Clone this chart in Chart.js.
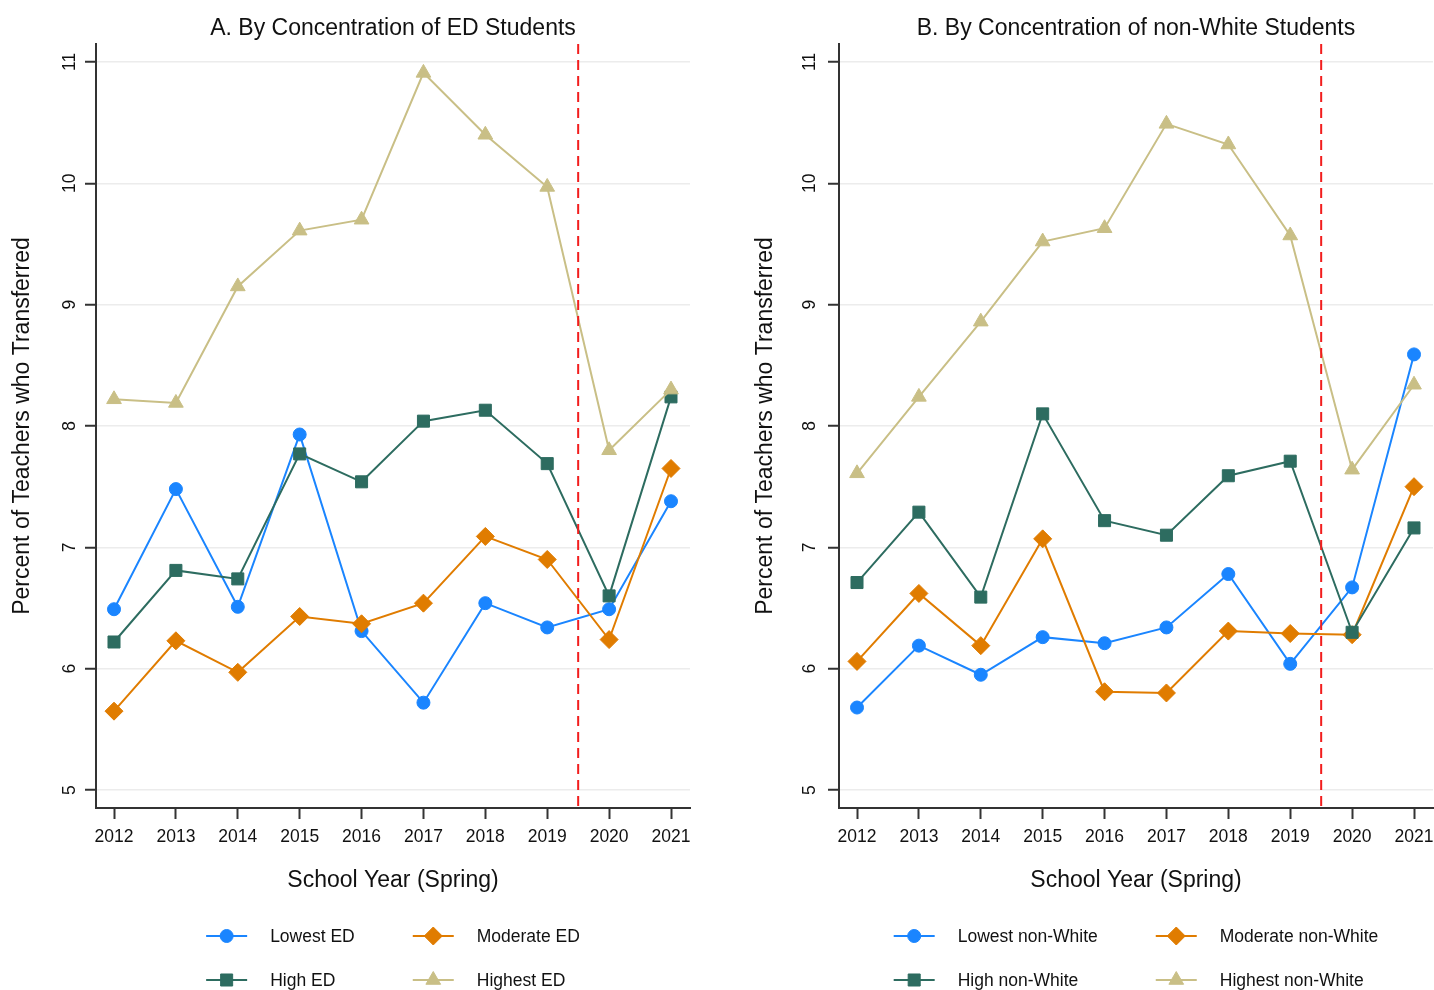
<!DOCTYPE html>
<html>
<head>
<meta charset="utf-8">
<script src="https://cdn.jsdelivr.net/npm/chart.js@4.4.1/dist/chart.umd.min.js"></script>
<style>
  html, body { margin: 0; padding: 0; background: #ffffff; }
  body { width: 1434px; height: 990px; overflow: hidden; position: relative; }
  canvas { position: absolute; top: 0; }
  #panelA { left: 0; }
  #panelB { left: 717px; }
</style>
</head>
<body>
<canvas id="panelA" width="717" height="990"></canvas>
<canvas id="panelB" width="740" height="990"></canvas>
<script>
// ---------------- DATA ----------------
const years = [2012, 2013, 2014, 2015, 2016, 2017, 2018, 2019, 2020, 2021];
const yTickValues = [5, 6, 7, 8, 9, 10, 11];
const cutoffYear = 2019.5;

const titleA = "A. By Concentration of ED Students";
const titleB = "B. By Concentration of non-White Students";
const xTitle = "School Year (Spring)";
const yTitle = "Percent of Teachers who Transferred";

const labelsA = ["Lowest ED", "Moderate ED", "High ED", "Highest ED"];
const labelsB = ["Lowest non-White", "Moderate non-White", "High non-White", "Highest non-White"];

const lowestED   = [6.49, 7.48, 6.51, 7.93, 6.31, 5.72, 6.54, 6.34, 6.49, 7.38];
const moderateED = [5.65, 6.23, 5.97, 6.43, 6.37, 6.54, 7.09, 6.90, 6.24, 7.65];
const highED     = [6.22, 6.81, 6.74, 7.77, 7.54, 8.04, 8.13, 7.69, 6.60, 8.24];
const highestED  = [8.22, 8.19, 9.15, 9.61, 9.70, 10.91, 10.40, 9.97, 7.80, 8.30];

const lowestNW   = [5.68, 6.19, 5.95, 6.26, 6.21, 6.34, 6.78, 6.04, 6.67, 8.59];
const moderateNW = [6.06, 6.62, 6.19, 7.07, 5.81, 5.80, 6.31, 6.29, 6.28, 7.50];
const highNW     = [6.71, 7.29, 6.59, 8.10, 7.22, 7.10, 7.59, 7.71, 6.30, 7.16];
const highestNW  = [7.61, 8.24, 8.86, 9.52, 9.63, 10.49, 10.32, 9.57, 7.64, 8.34];

// ---------------- STYLE ----------------
const FONT = '"Liberation Sans", Arial, sans-serif';
const TEXT = '#111111';
const AXIS = '#333333';
const GRID = '#ececec';
const seriesStyle = [
  { color: '#1a85ff', pointStyle: 'circle',   radius: 6.5 },
  { color: '#e07c00', pointStyle: 'rectRot',  radius: 9 },
  { color: '#2d6c60', pointStyle: 'rect',     radius: 8.5 },
  { color: '#c9bf86', pointStyle: 'triangle', radius: 8.5 }
];

function drawMarker(ctx, style, r, x, y) {
  ctx.beginPath();
  if (style === 'circle') {
    ctx.arc(x, y, r, 0, Math.PI * 2);
  } else if (style === 'rect') {
    const s = Math.SQRT1_2 * r;
    ctx.rect(x - s, y - s, 2 * s, 2 * s);
  } else if (style === 'rectRot') {
    ctx.moveTo(x, y - r); ctx.lineTo(x + r, y); ctx.lineTo(x, y + r); ctx.lineTo(x - r, y);
    ctx.closePath();
  } else if (style === 'triangle') {
    let rad = 0;
    ctx.moveTo(x + Math.sin(rad) * r, y - Math.cos(rad) * r);
    rad += 2 * Math.PI / 3;
    ctx.lineTo(x + Math.sin(rad) * r, y - Math.cos(rad) * r);
    rad += 2 * Math.PI / 3;
    ctx.lineTo(x + Math.sin(rad) * r, y - Math.cos(rad) * r);
    ctx.closePath();
  }
  ctx.fill();
  ctx.stroke();
}

const cutoffPlugin = {
  id: 'cutoffLine',
  afterDatasetsDraw(chart) {
    const ctx = chart.ctx, ca = chart.chartArea;
    const x = chart.scales.x.getPixelForValue(cutoffYear);
    ctx.save();
    ctx.strokeStyle = '#f21d1d';
    ctx.lineWidth = 2;
    ctx.setLineDash([10, 6]);
    ctx.beginPath();
    ctx.moveTo(x, ca.top);
    ctx.lineTo(x, ca.bottom);
    ctx.stroke();
    ctx.restore();
  }
};

const legendPlugin = {
  id: 'gridLegend',
  afterDraw(chart) {
    const ctx = chart.ctx, ca = chart.chartArea;
    const ds = chart.data.datasets;
    ctx.save();
    ctx.font = '17.5px ' + FONT;
    const w = ds.map(d => ctx.measureText(d.label).width);
    const lineLen = 41, textOff = 64, colGap = 58;
    const c1 = textOff + Math.max(w[0], w[2]);
    const c2 = textOff + Math.max(w[1], w[3]);
    const total = c1 + colGap + c2;
    const x0 = (ca.left + ca.right) / 2 - total / 2;
    const rows = [ca.bottom + 128, ca.bottom + 172];
    ds.forEach((d, i) => {
      const x = (i % 2 === 0) ? x0 : x0 + c1 + colGap;
      const y = rows[Math.floor(i / 2)];
      ctx.strokeStyle = d.borderColor;
      ctx.lineWidth = 2;
      ctx.beginPath();
      ctx.moveTo(x, y);
      ctx.lineTo(x + lineLen, y);
      ctx.stroke();
      ctx.fillStyle = d.pointBackgroundColor;
      ctx.lineWidth = 1;
      drawMarker(ctx, d.pointStyle, d.pointRadius, x + lineLen / 2, y);
      ctx.fillStyle = TEXT;
      ctx.textBaseline = 'middle';
      ctx.textAlign = 'left';
      ctx.fillText(d.label, x + textOff, y + 1);
    });
    ctx.restore();
  }
};

function makePanel(canvasId, title, labels, seriesList, padLeft, padRight, yTickPad) {
  const datasets = seriesList.map((vals, i) => {
    const st = seriesStyle[i];
    return {
      label: labels[i],
      data: years.map((yr, k) => ({ x: yr, y: vals[k] })),
      borderColor: st.color,
      backgroundColor: st.color,
      pointBackgroundColor: st.color,
      pointBorderColor: st.color,
      borderWidth: 2,
      pointStyle: st.pointStyle,
      pointRadius: st.radius,
      pointBorderWidth: 1,
      pointHoverRadius: st.radius,
      tension: 0,
      fill: false,
      order: 4 - i
    };
  });

  return new Chart(document.getElementById(canvasId), {
    type: 'line',
    data: { datasets },
    plugins: [cutoffPlugin, legendPlugin],
    options: {
      responsive: false,
      animation: false,
      devicePixelRatio: 1,
      layout: { padding: { left: padLeft, right: padRight, top: 0, bottom: 96 } },
      plugins: {
        legend: { display: false },
        tooltip: { enabled: false },
        title: {
          display: true,
          text: title,
          fullSize: false,
          color: TEXT,
          font: { family: FONT, size: 23, weight: 'normal', lineHeight: 1.2 },
          padding: { top: 15, bottom: 1.4 }
        }
      },
      scales: {
        x: {
          type: 'linear',
          min: 2011.709,
          max: 2021.307,
          afterBuildTicks: (s) => { s.ticks = years.map(v => ({ value: v })); },
          afterFit: (s) => { s.height = 86; },
          grid: {
            drawOnChartArea: false,
            drawTicks: true,
            tickLength: 11,
            tickColor: AXIS,
            tickWidth: 2
          },
          border: { display: true, color: AXIS, width: 2 },
          ticks: {
            autoSkip: false,
            maxRotation: 0,
            minRotation: 0,
            padding: 8,
            color: TEXT,
            font: { family: FONT, size: 17.5 },
            callback: (v) => String(v)
          },
          title: {
            display: true,
            text: xTitle,
            color: TEXT,
            font: { family: FONT, size: 23, lineHeight: 1.2 },
            padding: { top: 0, bottom: 0 }
          }
        },
        y: {
          type: 'linear',
          min: 4.852,
          max: 11.148,
          afterBuildTicks: (s) => { s.ticks = yTickValues.map(v => ({ value: v })); },
          afterFit: (s) => { s.width = 96; },
          grid: {
            color: GRID,
            lineWidth: 1.5,
            drawTicks: true,
            tickLength: 11,
            tickColor: AXIS,
            tickWidth: 2
          },
          border: { display: true, color: AXIS, width: 2 },
          ticks: {
            minRotation: 90,
            maxRotation: 90,
            crossAlign: 'center',
            padding: yTickPad,
            color: TEXT,
            font: { family: FONT, size: 17.5 },
            callback: (v) => String(v)
          },
          title: {
            display: true,
            text: yTitle,
            color: TEXT,
            font: { family: FONT, size: 23, lineHeight: 1.2 },
            padding: { top: 9, bottom: 0 }
          }
        }
      }
    }
  });
}

makePanel('panelA', titleA, labelsA, [lowestED, moderateED, highED, highestED], 0, 27, 5.3);
makePanel('panelB', titleB, labelsB, [lowestNW, moderateNW, highNW, highestNW], 26, 24, 8.3);
</script>
</body>
</html>
